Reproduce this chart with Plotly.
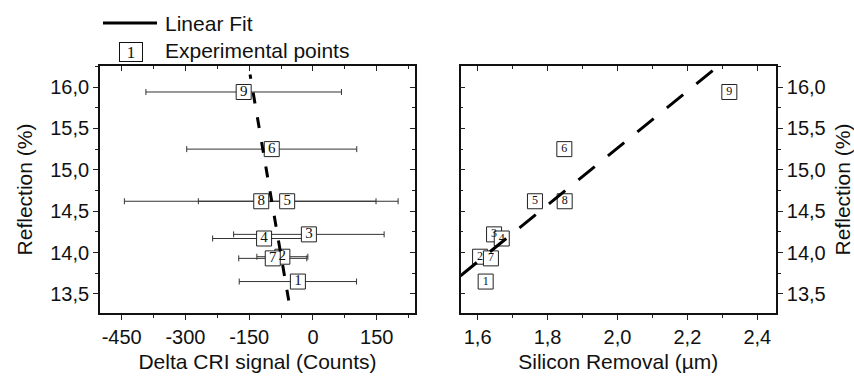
import numpy as np
import plotly.graph_objects as go

# ---- data -------------------------------------------------------------
point_labels = ["1", "2", "3", "4", "5", "6", "7", "8", "9"]
reflection = [13.65, 13.95, 14.22, 14.17, 14.62, 15.25, 13.93, 14.62, 15.94]
cri_signal = [-35.5, -72, -9.6, -115, -60.7, -97, -94.6, -121.7, -163]
cri_error = [138, 60, 177, 121, 209, 200, 80, 322, 230]
silicon_removal = [1.623, 1.607, 1.647, 1.669, 1.764, 1.848, 1.638, 1.849, 2.32]

# linear fits (end points)
fit_cri = [-57, -148]
fit_cri_refl = [13.42, 16.15]
fit_removal = [1.551, 2.4535]
fit_removal_refl = [13.72, 16.82]

# ticks
cri_ticks = [-450, -300, -150, 0, 150]
cri_ticktext = ["-450", "-300", "-150", "0", "150"]
removal_ticks = [1.6, 1.8, 2.0, 2.2, 2.4]
removal_ticktext = ["1,6", "1,8", "2,0", "2,2", "2,4"]
refl_ticks = [13.5, 14.0, 14.5, 15.0, 15.5, 16.0]
refl_ticktext = ["13,5", "14,0", "14,5", "15,0", "15,5", "16,0"]

cri_range = [-501, 240]
removal_range = [1.551, 2.4535]
refl_range = [13.27, 16.254]

cri_minor = list(np.arange(-525, 300, 75))
removal_minor = list(np.round(np.arange(1.5, 2.5, 0.1), 2))
refl_minor = list(np.arange(13.25, 16.5, 0.25))

# ---- style ------------------------------------------------------------
SANS = "Liberation Sans, Arial, sans-serif"
SERIF = "Liberation Serif, Times New Roman, serif"
W, H = 854, 376
ML, MR, MT, MB = 100, 78, 66, 63
PW = W - ML - MR
PH = H - MT - MB

left_dom = [0.0, (415 - ML) / PW]
right_dom = [(460.5 - ML) / PW, 1.0]


def px_x(p):
    return (p - ML) / PW


def px_y(p):
    return (H - MB - p) / PH


def axis_common(rng, tickvals, ticktext, minor_vals, ticks, labels, side):
    return dict(
        range=rng,
        tickmode="array",
        tickvals=tickvals,
        ticktext=ticktext,
        ticks=ticks,
        ticklen=5,
        tickwidth=1.2,
        tickcolor="#222",
        showticklabels=labels,
        tickfont=dict(family=SANS, size=20, color="#111"),
        showline=True,
        linecolor="#111",
        linewidth=1.6,
        showgrid=False,
        zeroline=False,
        automargin=False,
        side=side,
        minor=dict(
            tickmode="array",
            tickvals=minor_vals,
            ticks=ticks,
            ticklen=3,
            tickwidth=1.2,
            tickcolor="#222",
            showgrid=False,
        ),
    )


fig = go.Figure()

marker_style = dict(
    symbol="square",
    color="white",
    line=dict(color="#222", width=1),
)

# Delta CRI panel
fig.add_trace(go.Scatter(
    x=cri_signal, y=reflection, text=point_labels,
    mode="markers+text", textposition="middle center",
    textfont=dict(family=SERIF, size=15, color="#111"),
    marker=dict(size=15, **marker_style),
    error_x=dict(type="data", array=cri_error, color="#333",
                 thickness=1, width=3),
    xaxis="x", yaxis="y", showlegend=False, hoverinfo="skip",
))
fig.add_trace(go.Scatter(
    x=fit_cri, y=fit_cri_refl, mode="lines",
    line=dict(color="black", width=3, dash="11px,14px"),
    xaxis="x", yaxis="y", showlegend=False, hoverinfo="skip",
))

# Silicon removal panel
fig.add_trace(go.Scatter(
    x=silicon_removal, y=reflection, text=point_labels,
    mode="markers+text", textposition="middle center",
    textfont=dict(family=SERIF, size=12, color="#111"),
    marker=dict(size=15, **marker_style),
    xaxis="x2", yaxis="y2", showlegend=False, hoverinfo="skip",
))
fig.add_trace(go.Scatter(
    x=fit_removal, y=fit_removal_refl, mode="lines",
    line=dict(color="black", width=3, dash="21px,17px"),
    xaxis="x2", yaxis="y2", showlegend=False, hoverinfo="skip",
))

# empty traces that carry the mirrored (inside-tick) frame axes
for xa, ya in [("x3", "y"), ("x", "y3"), ("x4", "y2"), ("x2", "y4")]:
    fig.add_trace(go.Scatter(x=[None], y=[None], xaxis=xa, yaxis=ya,
                             showlegend=False, hoverinfo="skip"))

TITLE_FONT = dict(family=SANS, size=21, color="#111")

xaxis = axis_common(cri_range, cri_ticks, cri_ticktext, cri_minor,
                    "outside", True, "bottom")
xaxis.update(domain=left_dom, anchor="y",
             title=dict(text="Delta CRI signal (Counts)",
                        font=TITLE_FONT, standoff=8))
yaxis = axis_common(refl_range, refl_ticks, refl_ticktext, refl_minor,
                    "outside", True, "left")
yaxis.update(domain=[0, 1], anchor="x",
             title=dict(text="Reflection (%)", font=TITLE_FONT,
                        standoff=12))

xaxis2 = axis_common(removal_range, removal_ticks, removal_ticktext,
                     removal_minor, "outside", True, "bottom")
xaxis2.update(domain=right_dom, anchor="y2",
              title=dict(text="Silicon Removal (µm)",
                         font=TITLE_FONT, standoff=8))
yaxis2 = axis_common(refl_range, refl_ticks, refl_ticktext, refl_minor,
                     "outside", True, "right")
yaxis2.update(domain=[0, 1], anchor="x2",
              title=dict(text="Reflection (%)", font=TITLE_FONT,
                         standoff=12))

xaxis3 = axis_common(cri_range, cri_ticks, cri_ticktext, cri_minor,
                     "inside", False, "top")
xaxis3.update(overlaying="x", anchor="y")
yaxis3 = axis_common(refl_range, refl_ticks, refl_ticktext, refl_minor,
                     "inside", False, "right")
yaxis3.update(overlaying="y", anchor="x")
xaxis4 = axis_common(removal_range, removal_ticks, removal_ticktext,
                     removal_minor, "inside", False, "top")
xaxis4.update(overlaying="x2", anchor="y2")
yaxis4 = axis_common(refl_range, refl_ticks, refl_ticktext, refl_minor,
                     "inside", False, "left")
yaxis4.update(overlaying="y2", anchor="x2")

fig.update_layout(
    width=W, height=H,
    margin=dict(l=ML, r=MR, t=MT, b=MB),
    paper_bgcolor="white", plot_bgcolor="white",
    showlegend=False,
    xaxis=xaxis, yaxis=yaxis, xaxis2=xaxis2, yaxis2=yaxis2,
    xaxis3=xaxis3, yaxis3=yaxis3, xaxis4=xaxis4, yaxis4=yaxis4,
)

# key
fig.add_shape(type="line", xref="paper", yref="paper",
              x0=px_x(103), x1=px_x(157), y0=px_y(23), y1=px_y(23),
              line=dict(color="black", width=3))
fig.add_annotation(xref="paper", yref="paper", x=px_x(163), y=px_y(23),
                   xanchor="left", yanchor="middle", showarrow=False,
                   text="Linear Fit",
                   font=dict(family=SANS, size=21, color="#111"))
fig.add_annotation(xref="paper", yref="paper", x=px_x(131), y=px_y(52),
                   xanchor="center", yanchor="middle", showarrow=False,
                   text="1", width=20, height=16, borderpad=1,
                   bordercolor="#111", borderwidth=1, bgcolor="white",
                   font=dict(family=SERIF, size=17, color="#111"))
fig.add_annotation(xref="paper", yref="paper", x=px_x(163), y=px_y(50),
                   xanchor="left", yanchor="middle", showarrow=False,
                   text="Experimental points",
                   font=dict(family=SANS, size=21, color="#111"))

fig.write_html("out.html")
